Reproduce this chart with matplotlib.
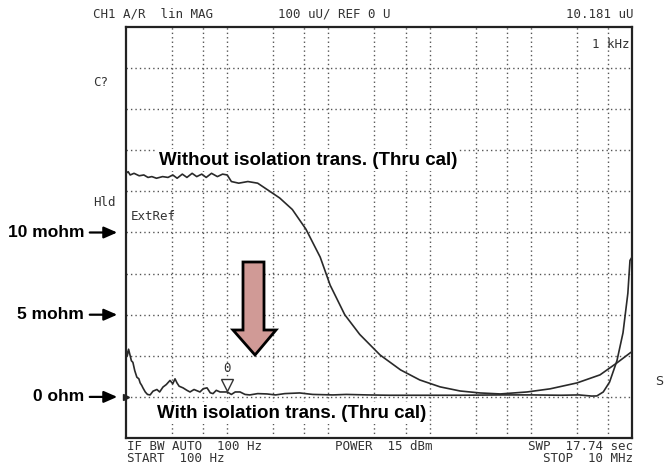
import numpy as np
import matplotlib
matplotlib.use("Agg")
import matplotlib.pyplot as plt
from matplotlib.patches import Polygon

# ---- data (frequency in Hz, impedance in mohm) ----
without_freq = [100, 105, 110, 120, 135, 150, 165, 180, 200, 230, 260, 290, 320, 360,
                400, 450, 500, 560, 620, 700, 800, 900, 1000, 1100, 1300, 1600, 2000,
                2500, 3300, 4400, 6000, 8300, 10400, 14500, 20400, 32400, 51700, 80000,
                127000, 200000, 315000, 500000, 917000, 1.55e6, 2.86e6, 4.83e6, 7.1e6,
                9.6e6, 1e7]
without_z = [13.6, 13.7, 13.5, 13.6, 13.45, 13.5, 13.35, 13.4, 13.3, 13.4, 13.35, 13.5, 13.3,
             13.55, 13.35, 13.6, 13.4, 13.55, 13.35, 13.6, 13.4, 13.55, 13.5, 13.1, 13.0, 13.1,
             13.0, 12.6, 12.1, 11.4, 10.2, 8.5, 6.8, 5.0, 3.8, 2.55, 1.64, 1.03, 0.61,
             0.36, 0.24, 0.18, 0.30, 0.49, 0.85, 1.34, 2.07, 2.68, 2.75]

with_freq = [100, 103, 106, 109, 113, 117, 122, 128, 134, 138, 143, 147, 155, 163, 173,
             185, 202, 215, 232, 250, 272, 290, 305, 319, 335, 366, 400, 429, 470, 538,
             580, 632, 680, 724, 780, 850, 1000, 1100, 1200, 1340, 1500, 1670, 2000,
             2470, 3000, 3700, 5200, 7000, 11100, 15000, 24200, 40000, 80000, 200000,
             500000, 1e6, 2e6, 3e6, 4e6, 4.5e6, 5.2e6, 6e6, 7.1e6, 8.15e6, 9.1e6,
             9.55e6, 1e7]
with_z = [2.9, 2.5, 2.9, 2.6, 2.2, 2.1, 1.6, 1.2, 1.1, 0.85, 0.7, 0.55, 0.3, 0.15, 0.12,
          0.35, 0.45, 0.3, 0.6, 0.75, 1.0, 0.8, 1.1, 0.85, 0.65, 0.55, 0.4, 0.3, 0.45,
          0.3, 0.5, 0.55, 0.25, 0.2, 0.4, 0.3, 0.3, 0.15, 0.3, 0.3, 0.15, 0.12, 0.2,
          0.18, 0.12, 0.2, 0.24, 0.15, 0.12, 0.15, 0.12, 0.1, 0.1, 0.1, 0.12, 0.12,
          0.1, 0.12, 0.05, 0.06, 0.3, 0.9, 2.2, 3.9, 6.3, 8.3, 8.5]

y_labels = ["10 mohm", "5 mohm", "0 ohm"]
y_label_vals = [10, 5, 0]
marker_freq = 1000
marker_z = 0.3

bold_font = ["Liberation Sans", "DejaVu Sans"]
bsize = 13.5
lsize = 12.5

W, H = 667, 469
fig = plt.figure(figsize=(W / 100, H / 100), dpi=100)
fig.patch.set_facecolor("white")

def fx(x):
    return x / W

def fy(y):
    return 1 - y / H

ax = fig.add_axes([fx(126), fy(438), 506 / W, 411 / H])
ax.set_xscale("log")
ax.set_xlim(100, 1e7)
ax.set_ylim(-2.5, 22.5)
for s in ax.spines.values():
    s.set_linewidth(1.6)
    s.set_color("#222222")
ax.set_xticks([])
ax.set_yticks([])
ax.minorticks_off()

# grid
dot = dict(color="#555555", lw=1.0, ls=(0, (1, 2.2)), zorder=1)
for v in np.arange(0, 22.5, 2.5):
    ax.axhline(v, **dot)
for d in range(2, 8):
    for off in [0.455, 0.762, 1.0]:
        xv = 10 ** (d + off)
        if xv < 1e7 * 0.999:
            ax.axvline(xv, **dot)

ax.plot(without_freq, without_z, color="#2a2a2a", lw=1.2, zorder=3)
ax.plot(with_freq, with_z, color="#2a2a2a", lw=1.2, zorder=3)

# marker 0
ax.plot([marker_freq], [marker_z + 0.45], marker="v", ms=8, mfc="white", mec="#333333",
        mew=1.0, zorder=4)
ax.text(marker_freq, marker_z + 1.05, "0", ha="center", va="bottom", fontsize=9,
        family="DejaVu Sans Mono", color="#333333", zorder=4)

# big arrow (axes fraction)
def ax_pt(px, py):
    return ((px - 126) / 506, (438 - py) / 411)

arrow_px = [(243, 262), (264, 262), (264, 330), (276, 330), (255, 355), (233, 330), (243, 330)]
poly = Polygon([ax_pt(*p) for p in arrow_px], closed=True, transform=ax.transAxes,
               facecolor="#d09a96", edgecolor="black", lw=2.0, zorder=5, joinstyle="miter")
ax.add_patch(poly)

ax.text(*ax_pt(159, 160), "Without isolation trans. (Thru cal)", transform=ax.transAxes,
        ha="left", va="center", fontsize=bsize, fontweight="bold", family=bold_font,
        bbox=dict(facecolor="white", edgecolor="none", pad=1.5), zorder=6)
ax.text(*ax_pt(157, 413), "With isolation trans. (Thru cal)", transform=ax.transAxes,
        ha="left", va="center", fontsize=bsize, fontweight="bold", family=bold_font,
        bbox=dict(facecolor="white", edgecolor="none", pad=1.5), zorder=6)

mono = dict(family="DejaVu Sans Mono", fontsize=9, color="#333333")
fig.text(fx(93), fy(14), "CH1 A/R  lin MAG", ha="left", va="center", **mono)
fig.text(fx(278), fy(14), "100 uU/ REF 0 U", ha="left", va="center", **mono)
fig.text(fx(633), fy(14), "10.181 uU", ha="right", va="center", **mono)
fig.text(fx(629), fy(45), "1 kHz", ha="right", va="center", **mono)
fig.text(fx(93), fy(82), "C?", ha="left", va="center", **mono)
fig.text(fx(93), fy(202), "Hld", ha="left", va="center", **mono)
fig.text(fx(131), fy(216), "ExtRef", ha="left", va="center", **mono)
fig.text(fx(127), fy(446), "IF BW AUTO  100 Hz", ha="left", va="center", **mono)
fig.text(fx(127), fy(458), "START  100 Hz", ha="left", va="center", **mono)
fig.text(fx(335), fy(446), "POWER  15 dBm", ha="left", va="center", **mono)
fig.text(fx(633), fy(446), "SWP  17.74 sec", ha="right", va="center", **mono)
fig.text(fx(633), fy(458), "STOP  10 MHz", ha="right", va="center", **mono)
fig.text(fx(655), fy(381), "S", ha="left", va="center", fontsize=9, color="#333333",
         family="DejaVu Sans")

# left labels with arrows
for lab, val in zip(y_labels, y_label_vals):
    ypx = ax.transData.transform((100, val))[1]
    yf = ypx / H
    fig.text(fx(84), yf, lab, ha="right", va="center", fontsize=lsize, fontweight="bold",
             family=bold_font)
    ax.annotate("", xy=(fx(120), yf), xycoords="figure fraction",
                xytext=(fx(87), yf), textcoords="figure fraction",
                arrowprops=dict(arrowstyle="-|>,head_length=0.8,head_width=0.35",
                                color="black", lw=1.6), annotation_clip=False)

# reference pointer at 0
ax.plot([100], [0], marker=">", ms=5, color="#222222", clip_on=False, zorder=6)

fig.savefig("out.png", dpi=100)
